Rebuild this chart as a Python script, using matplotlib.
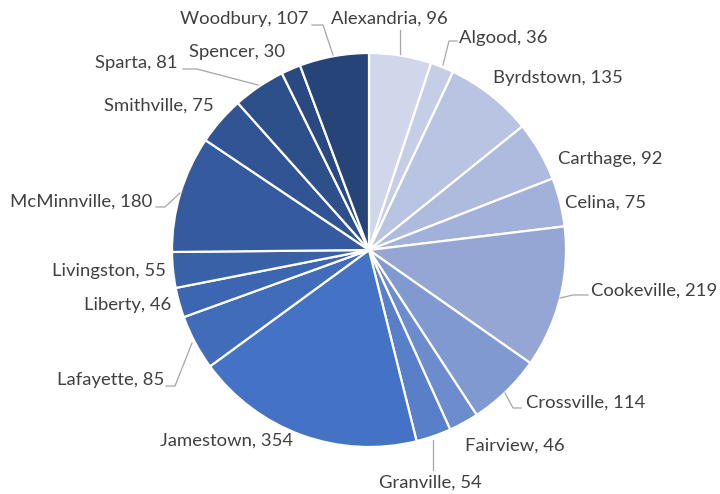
import numpy as np
import matplotlib.pyplot as plt
from matplotlib.colors import LinearSegmentedColormap

towns = ['Alexandria', 'Algood', 'Byrdstown', 'Carthage', 'Celina', 'Cookeville',
         'Crossville', 'Fairview', 'Granville', 'Jamestown', 'Lafayette', 'Liberty',
         'Livingston', 'McMinnville', 'Smithville', 'Sparta', 'Spencer', 'Woodbury']
counts = [96, 36, 135, 92, 75, 219, 114, 46, 54, 354, 85, 46, 55, 180, 75, 81, 30, 107]

W, H = 720, 494
# label anchors in pixel coords (x, y from top, alignment)
label_pos = [(331, 19, 'left'), (459, 38, 'left'), (493, 78, 'left'), (558, 159, 'left'),
             (565, 203, 'left'), (591, 291, 'left'), (526, 403, 'left'), (465, 446, 'left'),
             (379, 483, 'left'), (293, 441, 'right'), (164, 380, 'right'), (171, 305, 'right'),
             (166, 271, 'right'), (152, 202, 'right'), (214, 106, 'right'), (178, 63, 'right'),
             (285, 52, 'right'), (308, 19, 'right')]
leaders = {
    'Alexandria': [(400, 30), (400, 54)],
    'Algood': [(457, 41), (449, 41), (443, 65)],
    'Cookeville': [(588, 295), (573, 295), (560, 298)],
    'Crossville': [(521, 408), (513, 408), (505, 393)],
    'Granville': [(433, 470), (433, 440)],
    'Lafayette': [(166, 386), (175, 386), (192, 343)],
    'McMinnville': [(156, 207), (165, 207), (180, 193)],
    'Sparta': [(183, 69), (197, 69), (258, 85)],
    'Woodbury': [(312, 25), (323, 25), (333, 55)],
}

cmap = LinearSegmentedColormap.from_list(
    'blues', [(0, '#D1D7EB'), (0.28, '#95A6D5'), (0.5, '#4472C4'), (1, '#264478')])
jam = towns.index('Jamestown')
n = len(towns)
pos = [0.5 * i / jam if i <= jam else 0.5 + 0.5 * (i - jam) / (n - 1 - jam) for i in range(n)]
colors = [cmap(p) for p in pos]

fig = plt.figure(figsize=(W / 100, H / 100), dpi=100)
ax = fig.add_axes([0, 0, 1, 1])

ax.pie(counts, colors=colors, startangle=90, counterclock=False,
       center=(369, H - 250), radius=197,
       wedgeprops=dict(edgecolor='white', linewidth=1.6))
ax.set_xlim(0, W)
ax.set_ylim(0, H)
ax.set_aspect('equal')
ax.axis('off')

for name, c, (x, y, ha) in zip(towns, counts, label_pos):
    ax.text(x, H - y, f'{name}, {c}', ha=ha, va='center', fontsize=13.3,
            color='#404040', family='Lato')
    if name in leaders:
        pts = leaders[name]
        ax.plot([p[0] for p in pts], [H - p[1] for p in pts], color='#A6A6A6', lw=0.9)

fig.savefig('out.png', dpi=100)
